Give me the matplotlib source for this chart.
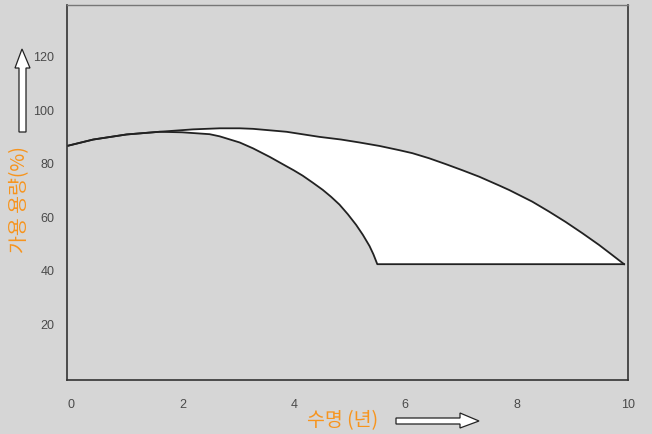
import matplotlib.pyplot as plt
from matplotlib.patches import Polygon

# values
upper_x = [-0.05, 0.4, 1.0, 1.59, 2.19, 2.67, 3.03, 3.27, 3.87, 4.46, 4.85, 5.18, 5.54, 5.9, 6.13, 6.43, 6.73, 7.03, 7.33, 7.69, 7.87, 8.28, 8.58, 8.88, 9.18, 9.48, 9.7, 9.93]
upper_y = [86.7, 89.0, 90.9, 91.9, 92.8, 93.2, 93.2, 93.0, 91.9, 90.0, 89.0, 87.9, 86.6, 85.0, 83.9, 82.0, 79.8, 77.5, 75.1, 71.8, 70.1, 65.8, 62.1, 58.2, 54.0, 49.6, 46.1, 42.4]

lower_x = [-0.05, 0.4, 1.0, 1.59, 2.0, 2.49, 2.67, 3.03, 3.27, 3.57, 3.87, 4.0, 4.16, 4.34, 4.52, 4.67, 4.82, 4.97, 5.12, 5.24, 5.36, 5.43, 5.5, 9.93]
lower_y = [86.7, 89.0, 90.9, 91.9, 91.7, 91.0, 90.2, 87.9, 85.7, 82.5, 79.0, 77.5, 75.5, 72.9, 70.2, 67.6, 64.7, 61.1, 57.1, 53.4, 49.2, 46.1, 42.4, 42.4]

x_ticks = [0, 2, 4, 6, 8, 10]
y_ticks = [20, 40, 60, 80, 100, 120]

bg = '#d6d6d6'
orange = '#f7941d'
kr_font = ['Noto Sans CJK KR', 'DejaVu Sans']

plt.rcParams['font.family'] = ['Liberation Sans Narrow', 'Liberation Sans', 'DejaVu Sans']

fig = plt.figure(figsize=(6.52, 4.34), dpi=100, facecolor=bg)
ax = fig.add_axes([67 / 652, 54 / 434, 561 / 652, 375 / 434], facecolor=bg)

# white band between the two curves
ax.fill(upper_x + lower_x[::-1], upper_y + lower_y[::-1], color='white', lw=0)

ax.plot(upper_x, upper_y, color='#222222', lw=1.3, solid_joinstyle='round')
ax.plot(lower_x, lower_y, color='#222222', lw=1.3, solid_joinstyle='round')

ax.set_xlim(-0.07, 10.0)
ax.set_ylim(-0.9, 139.3)
ax.set_xticks(x_ticks)
ax.set_yticks(y_ticks)
ax.tick_params(length=0, labelsize=9, labelcolor='#4a4a4a')
ax.tick_params(axis='x', pad=14)
ax.tick_params(axis='y', pad=9)

for side in ['left', 'bottom', 'right']:
    ax.spines[side].set_color('#333333')
    ax.spines[side].set_linewidth(1.2)
ax.spines['top'].set_color('#777777')
ax.spines['top'].set_linewidth(1.0)

# axis titles
fig.text(20 / 652, 1 - 200 / 434, '가용 용량(%)', rotation=90, color=orange,
         fontsize=14, family=kr_font, weight='light', ha='center', va='center')
fig.text(343 / 652, 1 - 421 / 434, '수명 (년)', color=orange,
         fontsize=14, family=kr_font, weight='light', ha='center', va='center')

# hollow arrows (pixel coordinates of the figure)
def px(pts):
    return [(x / 100, (434 - y) / 100) for x, y in pts]

up_arrow = px([(19, 132), (26, 132), (26, 68), (30, 68), (22, 49), (15, 68), (19, 68)])
right_arrow = px([(396, 418), (460, 418), (460, 413), (479, 421), (460, 428), (460, 424), (396, 424)])
for pts in (up_arrow, right_arrow):
    fig.add_artist(Polygon(pts, closed=True, facecolor='white', edgecolor='#222222',
                           lw=0.9, transform=fig.dpi_scale_trans))

fig.savefig('out.png', dpi=100, facecolor=bg)
